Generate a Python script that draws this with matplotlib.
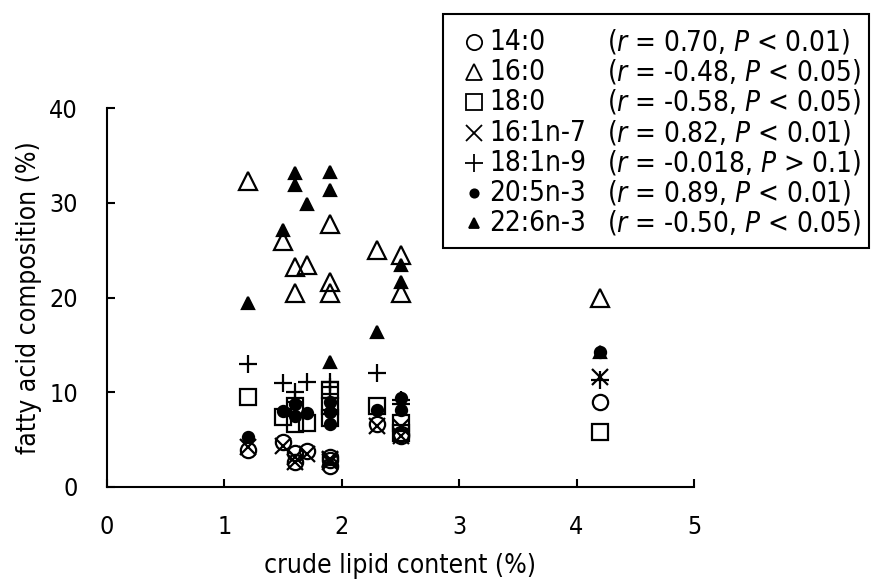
import matplotlib
matplotlib.use("Agg")
import matplotlib.pyplot as plt
from matplotlib.lines import Line2D
from matplotlib.patches import Rectangle

plt.rcParams['font.family'] = ['DejaVu Sans']
plt.rcParams['font.stretch'] = 'condensed'
plt.rcParams['mathtext.fontset'] = 'custom'
plt.rcParams['mathtext.rm'] = 'DejaVu Sans:stretch=condensed'
plt.rcParams['mathtext.it'] = 'DejaVu Sans:italic:stretch=condensed'

# crude lipid content of each sample (%)
lipid = [1.2, 1.5, 1.6, 1.6, 1.7, 1.9, 1.9, 1.9, 2.3, 2.5, 2.5, 4.2]

# fatty acid composition (%)
fa_14_0 = [3.9, 4.7, 3.6, 2.6, 3.8, 2.2, 2.8, 3.2, 6.6, 5.4, 5.6, 9.0]
fa_16_0 = [32.3, 26.0, 23.2, 20.5, 23.4, 27.8, 21.6, 20.5, 25.0, 24.5, 20.5, 19.9]
fa_18_0 = [9.5, 7.4, 8.5, 6.6, 6.8, 10.2, 8.6, 7.3, 8.6, 6.8, 5.7, 5.8]
fa_16_1n7 = [4.2, 4.3, 2.6, 3.2, 3.5, 2.8, 3.0, 2.6, 6.4, 6.3, 5.4, 11.6]
fa_18_1n9 = [13.0, 11.0, 10.0, 9.0, 11.1, 11.1, 10.6, 9.8, 12.0, 9.2, 8.8, 11.3]
fa_20_5n3 = [5.3, 8.0, 8.8, 7.5, 7.8, 9.0, 7.9, 6.7, 8.1, 9.4, 8.1, 14.3]
fa_22_6n3 = [19.4, 27.1, 33.1, 31.9, 29.9, 33.2, 31.3, 13.2, 16.4, 23.4, 21.6, 14.2]

names = ['14:0', '16:0', '18:0', '16:1n-7', '18:1n-9', '20:5n-3', '22:6n-3']
r_values = ['0.70', '-0.48', '-0.58', '0.82', '-0.018', '0.89', '-0.50']
p_values = ['< 0.01', '< 0.05', '< 0.05', '< 0.01', '> 0.1', '< 0.01', '< 0.05']

series = [fa_14_0, fa_16_0, fa_18_0, fa_16_1n7, fa_18_1n9, fa_20_5n3, fa_22_6n3]

# marker style for each fatty acid (plot size, legend size)
styles = [
    dict(marker='o', mfc='none', ms=11, leg_ms=11),
    dict(marker='^', mfc='none', ms=13, leg_ms=12),
    dict(marker='s', mfc='none', ms=12, leg_ms=11),
    dict(marker='x', mfc='none', ms=11, leg_ms=11),
    dict(marker='+', mfc='none', ms=13, leg_ms=13),
    dict(marker='o', mfc='black', ms=8, leg_ms=6),
    dict(marker='^', mfc='black', ms=9, leg_ms=7),
]

fig = plt.figure(figsize=(8.72, 5.81), dpi=100)
ax = fig.add_axes([107 / 872, 94 / 581, 587 / 872, 379 / 581])

for vals, st in zip(series, styles):
    ax.plot(lipid, vals, linestyle='none', marker=st['marker'],
            markersize=st['ms'], markerfacecolor=st['mfc'],
            markeredgecolor='black', markeredgewidth=1.6, color='black',
            clip_on=False)

ax.set_xlim(0, 5)
ax.set_ylim(0, 40)
ax.set_xticks(range(0, 6))
ax.set_yticks(range(0, 41, 10))
ax.spines['top'].set_visible(False)
ax.spines['right'].set_visible(False)
for s in ['left', 'bottom']:
    ax.spines[s].set_linewidth(1.5)
ax.tick_params(direction='in', length=6, width=1.5, labelsize=18)
ax.tick_params(axis='y', pad=21)
ax.tick_params(axis='x', pad=20)
ax.set_xlabel('crude lipid content (%)', fontsize=19, labelpad=10)
ax.set_ylabel('fatty acid composition (%)', fontsize=19, labelpad=5)

# legend box drawn in figure pixels
W, H = 872.0, 581.0
fig.add_artist(Rectangle((443 / W, 1 - 248 / H), 426 / W, 234 / H,
                         transform=fig.transFigure, fill=False,
                         edgecolor='black', linewidth=1.5))
row0, step = 42, 30.2
for i, (name, r, p, st) in enumerate(zip(names, r_values, p_values, styles)):
    y = 1 - (row0 + i * step) / H
    fig.add_artist(Line2D([474 / W], [y], transform=fig.transFigure,
                          linestyle='none', marker=st['marker'],
                          markersize=st['leg_ms'], markerfacecolor=st['mfc'],
                          markeredgecolor='black', markeredgewidth=1.3))
    fig.text(489 / W, y, name, fontsize=20, va='center', ha='left')
    fig.text(607 / W, y, '($r$ = %s, $P$ %s)' % (r, p), fontsize=20,
             va='center', ha='left')

fig.savefig('out.png', dpi=100)
